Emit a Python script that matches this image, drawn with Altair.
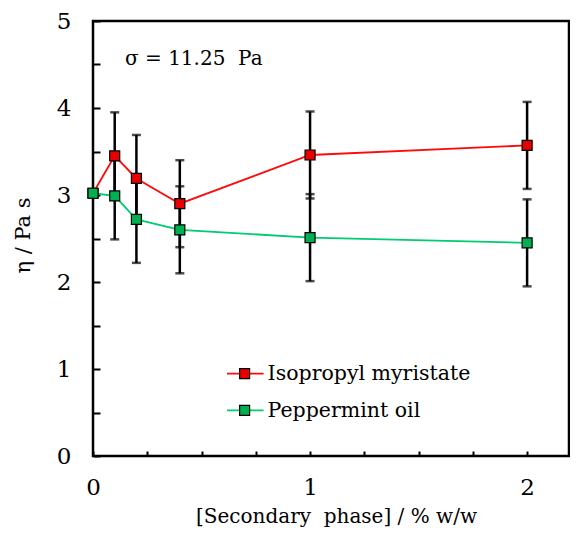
import altair as alt
import pandas as pd

# ---- data ----
x_vals = [0, 0.1, 0.2, 0.4, 1, 2]
ipm_vals = [3.02, 3.45, 3.19, 2.90, 3.46, 3.57]
pep_vals = [3.02, 2.99, 2.72, 2.60, 2.51, 2.45]
ipm_err = [0, 0.5, 0.5, 0.5, 0.5, 0.5]
pep_err = [0, 0.5, 0.5, 0.5, 0.5, 0.5]
series_names = ["Isopropyl myristate", "Peppermint oil"]
line_colors = ["#ff0a0a", "#00cc70"]
fill_colors = ["#e80000", "#00b050"]
x_tick_values = [0, 0.25, 0.5, 0.75, 1, 1.25, 1.5, 1.75, 2]
y_tick_values = [0, 0.5, 1, 1.5, 2, 2.5, 3, 3.5, 4, 4.5, 5]
annotation_text = "\u03c3 = 11.25\u00a0\u00a0Pa"
x_title = "[Secondary\u00a0\u00a0phase] / % w/w"
y_title = "\u03b7 / Pa s"

FONT = "DejaVu Serif"
FS_TICK = 23
FS_TEXT = 20

rows = []
for name, vals, errs in [(series_names[0], ipm_vals, ipm_err), (series_names[1], pep_vals, pep_err)]:
    for xv, yv, ev in zip(x_vals, vals, errs):
        rows.append({"series": name, "x": xv, "y": yv, "lo": yv - ev, "hi": yv + ev, "err": ev})
df = pd.DataFrame(rows)

xs = alt.Scale(domain=[0, 2.193], nice=False, zero=False)
ys = alt.Scale(domain=[0, 5], nice=False, zero=False)
stroke_scale = alt.Scale(domain=series_names, range=line_colors)
fill_scale = alt.Scale(domain=series_names, range=fill_colors)

x_axis = alt.Axis(
    values=x_tick_values,
    labelExpr="datum.value % 1 === 0 ? '' + datum.value : ''",
    offset=-5, tickSize=5, tickWidth=2, tickColor="black",
    domain=False, grid=False, labelFlush=False, labelOverlap=False,
    labelFont=FONT, labelFontSize=FS_TICK, labelColor="black", labelPadding=20,
    title=x_title, titleFont=FONT, titleFontSize=FS_TEXT, titleFontWeight="normal",
    titleColor="black", titleX=243, titleY=71, titleBaseline="alphabetic",
)
y_axis = alt.Axis(
    values=y_tick_values,
    labelExpr="datum.value % 1 === 0 ? '' + datum.value : ''",
    offset=-7, tickSize=7, tickWidth=2, tickColor="black",
    domain=False, grid=False, labelFlush=False, labelOverlap=False,
    labelFont=FONT, labelFontSize=FS_TICK, labelColor="black", labelPadding=22,
    title=y_title, titleFont=FONT, titleFontSize=21, titleFontWeight="normal",
    titleColor="black", titlePadding=23, titleY=214,
)

base = alt.Chart(df)

lines = base.mark_line(strokeWidth=1.8).encode(
    x=alt.X("x:Q", scale=xs, axis=x_axis),
    y=alt.Y("y:Q", scale=ys, axis=y_axis),
    stroke=alt.Stroke("series:N", scale=stroke_scale, legend=None),
    detail="series:N",
)

err_df = base.transform_filter("datum.err > 0")
bars = err_df.mark_rule(color="black", strokeWidth=2.5).encode(
    x=alt.X("x:Q", scale=xs),
    y=alt.Y("lo:Q", scale=ys),
    y2="hi:Q",
)
caps_lo = err_df.mark_tick(color="black", thickness=2.5, size=9, orient="horizontal").encode(
    x=alt.X("x:Q", scale=xs),
    y=alt.Y("lo:Q", scale=ys),
)
caps_hi = err_df.mark_tick(color="black", thickness=2.5, size=9, orient="horizontal").encode(
    x=alt.X("x:Q", scale=xs),
    y=alt.Y("hi:Q", scale=ys),
)

points = base.mark_point(shape="square", filled=True, size=100, strokeWidth=1.2, opacity=1).encode(
    x=alt.X("x:Q", scale=xs),
    y=alt.Y("y:Q", scale=ys),
    fill=alt.Fill("series:N", scale=fill_scale, legend=None),
    stroke=alt.value("black"),
    order=alt.Order("series:N"),
)

ann = alt.Chart(pd.DataFrame({"t": [annotation_text]})).mark_text(
    font=FONT, fontSize=FS_TEXT, align="left", baseline="alphabetic", color="black"
).encode(x=alt.value(32), y=alt.value(43.5), text="t:N")

legend_layers = []
leg_y = [352.6, 389.3]
for i, name in enumerate(series_names):
    ldf = pd.DataFrame({"name": [name]})
    lc = alt.Chart(ldf)
    legend_layers.append(lc.mark_rule(color=line_colors[i], strokeWidth=1.8).encode(
        x=alt.value(134), x2=alt.value(170.6), y=alt.value(leg_y[i])))
    legend_layers.append(lc.mark_point(shape="square", filled=True, size=100, fill=fill_colors[i],
                                       stroke="black", strokeWidth=1.2, opacity=1).encode(
        x=alt.value(151.6), y=alt.value(leg_y[i])))
    legend_layers.append(lc.mark_text(font=FONT, fontSize=20.5, align="left", baseline="middle",
                                      color="black").encode(
        x=alt.value(174.6), y=alt.value(leg_y[i] + 0.5), text="name:N"))

chart = alt.layer(lines, bars, caps_lo, caps_hi, points, ann, *legend_layers).properties(
    width=476, height=435,
    autosize=alt.AutoSizeParams(type="none"),
    padding={"left": 85, "top": 13, "right": 1, "bottom": 72},
).configure_view(stroke="black", strokeWidth=2.5)

chart.save("out.html", embed_options={"renderer": "svg", "actions": False})
